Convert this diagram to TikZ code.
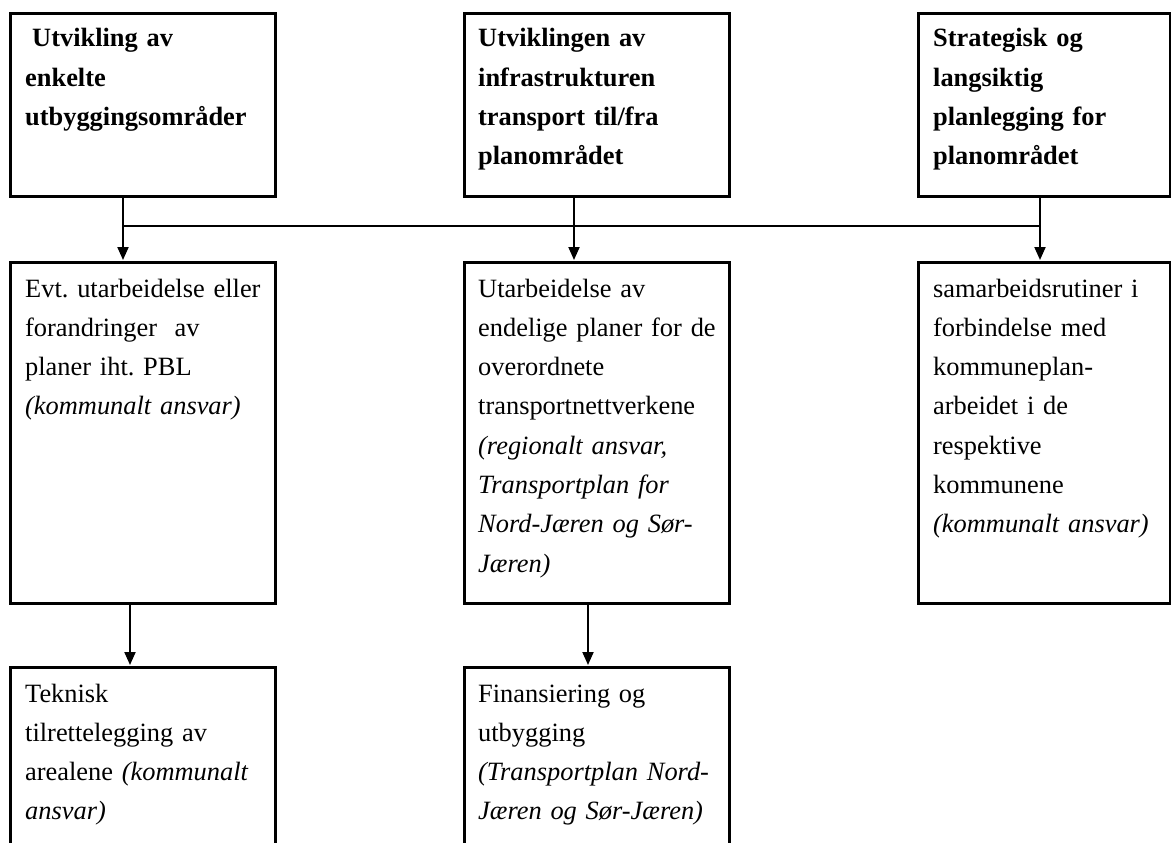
\documentclass[tikz,border=0pt]{standalone}
\usepackage{fontspec}
\setmainfont{Liberation Serif}
\usetikzlibrary{arrows.meta}
\begin{document}
\frenchspacing
\begin{tikzpicture}[x=1pt,y=-1pt,
  box/.style={draw, line width=3pt, inner sep=0pt, outer sep=0pt, anchor=north west},
  txt/.style={anchor=base west, text width=320pt, align=left, inner sep=0pt, font=\fontsize{26.4}{39.3}\selectfont\frenchspacing},
  btxt/.style={txt, font=\fontsize{26.4}{39.3}\selectfont\bfseries\frenchspacing},
  link/.style={line width=2pt},
  arr/.style={line width=2pt, shorten >=2pt, -{Triangle[width=11pt,length=13pt]}}]
\useasboundingbox (0,0) rectangle (1171,843);
\clip (0,0) rectangle (1171,843);
% boxes
\node[box, minimum width=265pt, minimum height=182pt] (t1) at (10,14) {};
\node[box, minimum width=265pt, minimum height=182pt] (t2) at (464,14) {};
\node[box, minimum width=252pt, minimum height=182pt] (t3) at (918,14) {};
\node[box, minimum width=265pt, minimum height=341pt] (m1) at (10,262) {};
\node[box, minimum width=265pt, minimum height=341pt] (m2) at (464,262) {};
\node[box, minimum width=252pt, minimum height=341pt] (m3) at (918,262) {};
\node[box, minimum width=265pt, minimum height=200pt] (b1) at (10,667) {};
\node[box, minimum width=265pt, minimum height=200pt] (b2) at (464,667) {};
% texts
\node[btxt] (t1t) at (25,47) {\hspace*{7pt}Utvikling av\\enkelte\\utbyggingsområder};
\node[btxt] (t2t) at (478,47) {Utviklingen av\\infrastrukturen\\transport til/fra\\planområdet};
\node[btxt] (t3t) at (933,47) {Strategisk og\\langsiktig\\planlegging for\\planområdet};
\node[txt] (m1t) at (25,297) {Evt. utarbeidelse eller\\forandringer\ \ av\\planer iht. PBL\\\textit{(kommunalt ansvar)}};
\node[txt] (m2t) at (478,297) {Utarbeidelse av\\endelige planer for de\\overordnete\\transportnettverkene\\\textit{(regionalt ansvar,}\\\textit{Transportplan for}\\\textit{Nord-Jæren og Sør-}\\\textit{Jæren)}};
\node[txt] (m3t) at (933,297) {samarbeidsrutiner i\\forbindelse med\\kommuneplan-\\arbeidet i de\\respektive\\kommunene\\\textit{(kommunalt ansvar)}};
\node[txt] (b1t) at (25,702) {Teknisk\\tilrettelegging av\\arealene \textit{(kommunalt}\\\textit{ansvar)}};
\node[txt] (b2t) at (478,702) {Finansiering og\\utbygging\\\textit{(Transportplan Nord-}\\\textit{Jæren og Sør-Jæren)}};
% connectors
\coordinate (c1) at (123,226);
\coordinate (c2) at (574,226);
\coordinate (c3) at (1040,226);
\coordinate (d1) at (130,630);
\coordinate (d2) at (588,630);
\draw[link] (c1) -- (c3);
\draw[arr] (t1.south -| c1) -- (m1.north -| c1);
\draw[arr] (t2.south -| c2) -- (m2.north -| c2);
\draw[arr] (t3.south -| c3) -- (m3.north -| c3);
\draw[arr] (m1.south -| d1) -- (b1.north -| d1);
\draw[arr] (m2.south -| d2) -- (b2.north -| d2);
\end{tikzpicture}
\end{document}
